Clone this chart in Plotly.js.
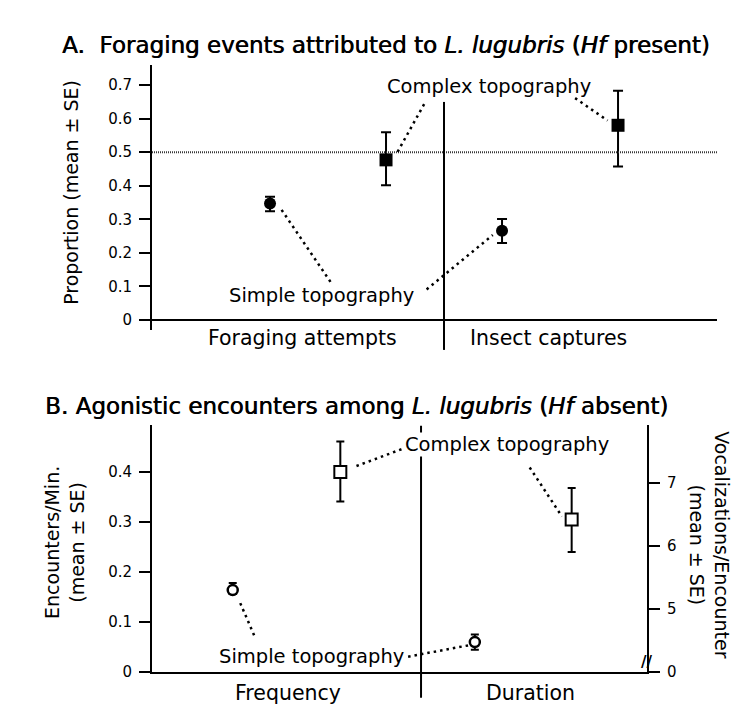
<!DOCTYPE html>
<html>
<head>
<meta charset="utf-8">
<script src="https://cdn.plot.ly/plotly-3.0.1.min.js"></script>
<style>
  html, body { margin: 0; padding: 0; background: #fff; }
  #gd { width: 756px; height: 723px; }
</style>
</head>
<body>
<div id="gd"></div>
<script>
// Panel A: proportion of foraging events (x: 1,2 = attempts, 3,4 = captures)
var simpleAx = [1, 3];
var simpleAy = [0.347, 0.266];
var simpleAplus = [0.020, 0.035];
var simpleAminus = [0.023, 0.037];

var complexAx = [2, 4];
var complexAy = [0.477, 0.580];
var complexAplus = [0.082, 0.103];
var complexAminus = [0.076, 0.123];

var groupA = ["Foraging attempts", "Insect captures"];
var groupAx = [1.28, 3.40];
var yticksA = [0, 0.1, 0.2, 0.3, 0.4, 0.5, 0.6, 0.7];

// Panel B: frequency on left axis, duration on right axis
var simpleFreqX = [0.75], simpleFreqY = [0.163], simpleFreqPlus = [0.014], simpleFreqMinus = [0.008];
var complexFreqX = [1.75], complexFreqY = [0.399], complexFreqPlus = [0.061], complexFreqMinus = [0.059];
var simpleDurX = [3.0], simpleDurY = [4.47], simpleDurPlus = [0.12], simpleDurMinus = [0.12];
var complexDurX = [3.9], complexDurY = [6.42], complexDurPlus = [0.50], complexDurMinus = [0.52];

var groupB = ["Frequency", "Duration"];
var groupBx = [1.26, 3.52];
var yticksB = [0, 0.1, 0.2, 0.3, 0.4];
var yticksB2 = [4, 5, 6, 7];
var yticksB2text = ["0", "5", "6", "7"];

var FONT = "DejaVu Sans, Liberation Sans, Arial, sans-serif";

function pts(x, y, plus, minus, symbol, size, fill, xa, ya, cap, lw) {
  return {
    type: "scatter", mode: "markers", x: x, y: y, xaxis: xa, yaxis: ya,
    marker: { symbol: symbol, size: size, color: fill, line: { color: "#000", width: lw } },
    error_y: { type: "data", array: plus, arrayminus: minus, color: "#000", thickness: 2, width: cap },
    hoverinfo: "x+y"
  };
}

var data = [
  pts(simpleAx, simpleAy, simpleAplus, simpleAminus, "circle", 12, "#000", "x", "y", 5, 0),
  pts(complexAx, complexAy, complexAplus, complexAminus, "square", 13, "#000", "x", "y", 5, 0),
  pts(simpleFreqX, simpleFreqY, simpleFreqPlus, simpleFreqMinus, "circle", 10, "#fff", "x2", "y2", 4, 2.5),
  pts(complexFreqX, complexFreqY, complexFreqPlus, complexFreqMinus, "square", 12, "#fff", "x2", "y2", 4, 2),
  pts(simpleDurX, simpleDurY, simpleDurPlus, simpleDurMinus, "circle", 10, "#fff", "x2", "y3", 4, 2.5),
  pts(complexDurX, complexDurY, complexDurPlus, complexDurMinus, "square", 12, "#fff", "x2", "y3", 4, 2)
];

function leader(xa, ya, x0, y0, x1, y1) {
  return { type: "line", xref: xa, yref: ya, x0: x0, y0: y0, x1: x1, y1: y1,
           line: { color: "#000", width: 2.5, dash: "2.5px,4px" } };
}

var shapes = [
  // 0.5 reference line
  { type: "line", xref: "x domain", yref: "y", x0: 0, x1: 1, y0: 0.5, y1: 0.5,
    line: { color: "#333", width: 2, dash: "1px,1px" } },
  // group dividers
  { type: "line", xref: "x", yref: "paper", x0: 2.5, x1: 2.5, y0: 0.516, y1: 0.859, line: { color: "#000", width: 2 } },
  { type: "line", xref: "x2", yref: "paper", x0: 2.5, x1: 2.5, y0: 0.035, y1: 0.411, line: { color: "#000", width: 2 } },
  // label leaders, panel A
  leader("x", "y", 2.10, 0.501, 2.34, 0.650),
  leader("x", "y", 3.63, 0.661, 3.91, 0.594),
  leader("x", "y", 1.10, 0.328, 1.54, 0.104),
  leader("x", "y", 2.35, 0.091, 2.92, 0.253),
  // label leaders, panel B
  leader("x2", "y2", 1.90, 0.411, 2.35, 0.447),
  leader("x2", "y2", 3.51, 0.408, 3.81, 0.310),
  leader("x2", "y2", 0.82, 0.137, 0.96, 0.067),
  leader("x2", "y2", 2.38, 0.030, 2.95, 0.053)
];

function label(text, xa, ya, x, y, size, bg, angle) {
  return { text: text, xref: xa, yref: ya, x: x, y: y, showarrow: false, xanchor: "center", yanchor: "middle",
           textangle: angle || 0,
           font: { family: FONT, size: size, color: "#000" }, bgcolor: bg || "rgba(0,0,0,0)", borderpad: 0 };
}

var titleFont = { family: FONT, size: 23, color: "#000", shadow: "0.6px 0 0 #000" };

var annotations = [
  { text: "A.  Foraging events attributed to <i>L. lugubris</i> (<i>Hf</i> present)", xref: "paper", yref: "paper",
    x: 0.511, y: 0.938, xanchor: "center", yanchor: "middle", showarrow: false, font: titleFont },
  { text: "B. Agonistic encounters among <i>L. lugubris</i> (<i>Hf</i> absent)", xref: "paper", yref: "paper",
    x: 0.471, y: 0.4385, xanchor: "center", yanchor: "middle", showarrow: false, font: titleFont },
  label("Proportion (mean ± SE)", "paper", "paper", 0.0946, 0.734, 19, null, -90),
  label("Encounters/Min.<br>(mean ± SE)", "paper", "paper", 0.086, 0.249, 19, null, -90),
  label("Vocalizations/Encounter<br>(mean ± SE)", "paper", "paper", 0.939, 0.246, 19, null, 90),
  label("Complex topography", "x", "y", 2.89, 0.695, 19.5),
  label("Simple topography", "x", "y", 1.44, 0.0715, 19.5),
  label("Complex topography", "x2", "y2", 3.30, 0.453, 19.5, "#fff"),
  label("Simple topography", "x2", "y2", 1.48, 0.030, 19.5),
  { text: "//", xref: "x2", yref: "y3", x: 4.6, y: 4.16, showarrow: false, xanchor: "center", yanchor: "middle",
    font: { family: FONT, size: 15, color: "#000", weight: "bold" } }
];
// group labels sit below the axes, so place them in paper space
groupA.forEach(function (g, i) {
  annotations.push(label(g, "x", "paper", groupAx[i], 0.5325, 20.5));
});
groupB.forEach(function (g, i) {
  annotations.push(label(g, "x2", "paper", groupBx[i], 0.0415, 20.5));
});

var yax = {
  showline: true, linecolor: "#000", linewidth: 2, ticks: "outside", ticklen: 11, tickwidth: 2, tickcolor: "#000",
  ticklabelstandoff: 4,
  showgrid: false, zeroline: false, tickfont: { family: FONT, size: 15, color: "#000" }, tickmode: "array"
};
var xax = { showgrid: false, zeroline: false, showticklabels: false, ticks: "", fixedrange: true };

var layout = {
  width: 756, height: 723,
  margin: { l: 0, r: 0, t: 0, b: 0 },
  paper_bgcolor: "#fff", plot_bgcolor: "rgba(0,0,0,0)",
  showlegend: false,
  xaxis: Object.assign({}, xax, { domain: [0.2011, 0.9484], range: [-0.017, 4.853], anchor: "y", showline: false }),
  yaxis: Object.assign({}, yax, { domain: [0.5436, 0.9101], range: [-0.0298, 0.7596], anchor: "x",
    tickvals: yticksA, zeroline: true, zerolinecolor: "#000", zerolinewidth: 2 }),
  xaxis2: Object.assign({}, xax, { domain: [0.2011, 0.8558], range: [0, 4.6], anchor: "y2",
    showline: true, linecolor: "#000", linewidth: 2 }),
  yaxis2: Object.assign({}, yax, { domain: [0.0710, 0.4122], range: [0, 0.493], anchor: "x2", tickvals: yticksB }),
  yaxis3: Object.assign({}, yax, { overlaying: "y2", side: "right", anchor: "x2", range: [4, 7.92],
    tickvals: yticksB2, ticktext: yticksB2text }),
  shapes: shapes,
  annotations: annotations
};

Plotly.newPlot("gd", data, layout, { displayModeBar: false, staticPlot: true });
</script>
</body>
</html>
